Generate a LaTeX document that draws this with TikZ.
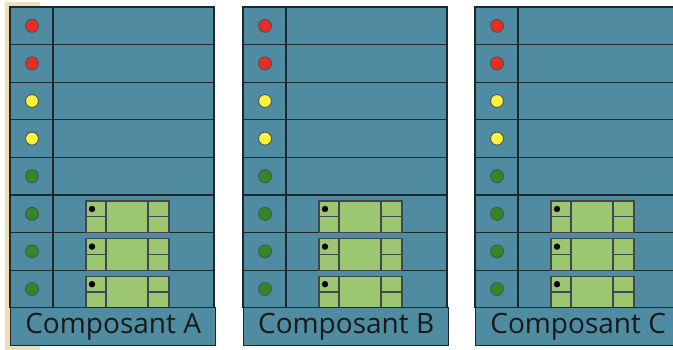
\documentclass[tikz,border=0pt]{standalone}
\usepackage{fontspec}
\setmainfont{Open Sans}
\usepackage{tikz}

\definecolor{slot}{RGB}{79,140,161}
\definecolor{card}{RGB}{156,198,112}
\definecolor{ledred}{RGB}{232,46,34}
\definecolor{ledyellow}{RGB}{252,242,60}
\definecolor{ledgreen}{RGB}{52,134,38}
\definecolor{strip}{RGB}{238,222,184}
\definecolor{rule}{RGB}{28,40,46}

\begin{document}
\begin{tikzpicture}[x=1pt, y=-1pt, line width=1.3pt,
    led/.style={circle, draw=rule!80, line width=0.9pt, minimum size=13pt, inner sep=0pt},
    tag/.style={draw=rule, fill=slot, minimum width=205pt, minimum height=38pt, inner sep=0pt,
        anchor=north west, font=\fontsize{28}{30}\selectfont, text=black!90}]
    \clip (0,0) rectangle (673,350);

    % paper strip
    \fill[strip] (5,2) rectangle (40,350);

    \foreach \p/\xo in {A/10, B/243, C/475} {
        % rack
        \fill[slot] (\xo,7) rectangle ++(204,300.8);
        \foreach \r in {1,...,7}
            \draw[rule] (\xo,{7+\r*37.6}) -- ++(204,0);
        \draw[rule] (\xo+43,7) -- ++(0,300.8);
        \draw[rule] (\xo,7) rectangle ++(204,300.8);

        % leds
        \foreach \r/\c in {1/ledred, 2/ledred, 3/ledyellow, 4/ledyellow,
                           5/ledgreen, 6/ledgreen, 7/ledgreen, 8/ledgreen}
            \node[led, fill=\c] (led\p\r) at (\xo+22,{7+(\r-0.5)*37.6}) {};

        % cards
        \foreach \r in {6,7,8} {
            \pgfmathsetmacro{\top}{7+(\r-1)*37.6+6}
            \pgfmathsetmacro{\bot}{7+\r*37.6}
            \pgfmathsetmacro{\mid}{(\top+\bot)/2}
            \draw[rule!85, fill=card] (\xo+76,\top) rectangle (\xo+159,\bot);
            \draw[rule!85] (\xo+96,\top) -- (\xo+96,\bot);
            \draw[rule!85] (\xo+138,\top) -- (\xo+138,\bot);
            \draw[rule!85] (\xo+76,\mid) -- (\xo+96,\mid);
            \draw[rule!85] (\xo+138,\mid) -- (\xo+159,\mid);
            \fill[black] (\xo+82,\top+8) circle (3.2);
        }

        % label
        \node[tag] (tag\p) at (\xo,307) {Composant \p};
    }
\end{tikzpicture}
\end{document}
